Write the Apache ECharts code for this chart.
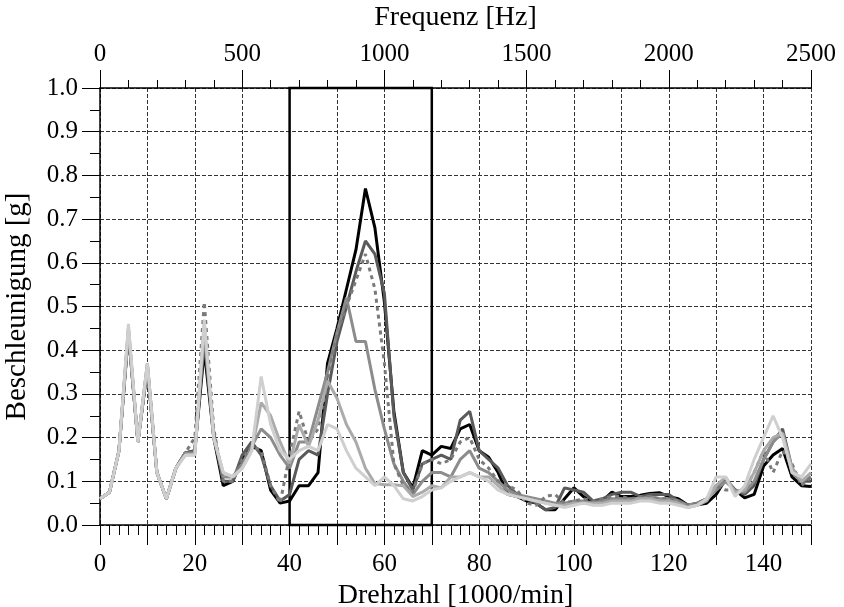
<!DOCTYPE html>
<html><head><meta charset="utf-8">
<script src="https://cdn.jsdelivr.net/npm/echarts@6/dist/echarts.min.js"></script>
<style>html,body{margin:0;padding:0;background:#fff}#c{width:844px;height:607px}</style>
</head><body><div id="c"></div>
<script>
const speed = [0,2,4,6,8,10,12,14,16,18,20,22,24,26,28,30,32,34,36,38,40,42,44,46,48,50,52,54,56,58,60,62,64,66,68,70,72,74,76,78,80,82,84,86,88,90,92,94,96,98,100,102,104,106,108,110,112,114,116,118,120,122,124,126,128,130,132,134,136,138,140,142,144,146,148,150];
const sBlack = [0.06,0.075,0.17,0.44,0.19,0.36,0.12,0.06,0.13,0.165,0.17,
 0.40,0.20,0.09,0.10,0.15,0.18,0.17,0.08,0.05,0.055,
 0.09,0.09,0.12,0.37,0.45,0.54,0.63,0.77,0.68,0.51,
 0.26,0.12,0.085,0.17,0.16,0.18,0.175,0.22,0.23,0.17,
 0.155,0.12,0.07,0.065,0.055,0.05,0.035,0.035,0.06,0.085,
 0.065,0.05,0.055,0.075,0.065,0.065,0.068,0.072,0.074,0.065,
 0.06,0.046,0.046,0.05,0.07,0.105,0.08,0.062,0.07,0.135,
 0.16,0.175,0.11,0.09,0.088];
const sDark = [0.06,0.075,0.17,0.44,0.19,0.36,0.12,0.06,0.13,0.165,0.17,
 0.42,0.21,0.10,0.10,0.16,0.19,0.16,0.09,0.055,0.07,
 0.15,0.17,0.16,0.30,0.42,0.50,0.58,0.65,0.62,0.53,
 0.25,0.12,0.08,0.14,0.15,0.16,0.15,0.24,0.26,0.17,
 0.15,0.13,0.09,0.07,0.06,0.05,0.035,0.04,0.085,0.08,
 0.075,0.055,0.06,0.07,0.075,0.075,0.065,0.07,0.07,0.07,
 0.055,0.045,0.05,0.06,0.09,0.10,0.08,0.07,0.09,0.15,
 0.19,0.22,0.13,0.10,0.10];
const sMedium = [0.06,0.075,0.17,0.45,0.19,0.37,0.12,0.06,0.13,0.165,0.165,
 0.44,0.20,0.11,0.11,0.14,0.18,0.22,0.20,0.16,0.13,
 0.19,0.19,0.27,0.35,0.44,0.52,0.42,0.42,0.31,0.22,
 0.14,0.10,0.07,0.10,0.12,0.12,0.11,0.15,0.17,0.13,
 0.12,0.10,0.08,0.07,0.065,0.06,0.055,0.05,0.05,0.055,
 0.055,0.05,0.055,0.06,0.06,0.06,0.06,0.065,0.06,0.06,
 0.055,0.045,0.05,0.06,0.08,0.10,0.08,0.075,0.10,0.15,
 0.19,0.21,0.12,0.10,0.11];
const sDashed = [0.06,0.075,0.17,0.44,0.19,0.36,0.12,0.06,0.13,0.165,0.20,
 0.51,0.22,0.10,0.10,0.15,0.18,0.17,0.09,0.05,0.16,
 0.26,0.19,0.22,0.33,0.44,0.50,0.56,0.62,0.54,0.37,
 0.14,0.09,0.075,0.14,0.15,0.14,0.15,0.19,0.20,0.15,
 0.13,0.10,0.09,0.08,0.05,0.045,0.065,0.07,0.05,0.055,
 0.06,0.055,0.06,0.065,0.065,0.06,0.065,0.065,0.06,0.06,
 0.055,0.045,0.05,0.06,0.09,0.08,0.08,0.08,0.12,0.17,
 0.12,0.17,0.14,0.09,0.11];
const sLight = [0.06,0.075,0.17,0.45,0.19,0.37,0.12,0.06,0.13,0.16,0.16,
 0.46,0.20,0.12,0.11,0.13,0.17,0.28,0.25,0.19,0.14,
 0.23,0.18,0.24,0.33,0.29,0.23,0.19,0.13,0.095,0.092,
 0.092,0.09,0.065,0.075,0.09,0.085,0.11,0.11,0.12,0.11,
 0.11,0.09,0.07,0.065,0.06,0.055,0.05,0.045,0.045,0.05,
 0.05,0.05,0.05,0.055,0.055,0.055,0.06,0.06,0.055,0.055,
 0.05,0.04,0.045,0.055,0.09,0.11,0.075,0.08,0.12,0.17,
 0.20,0.21,0.13,0.10,0.12];
const sLightest = [0.06,0.075,0.17,0.46,0.19,0.37,0.12,0.06,0.13,0.16,0.16,
 0.47,0.20,0.12,0.11,0.13,0.17,0.34,0.23,0.17,0.15,
 0.17,0.18,0.17,0.23,0.22,0.17,0.13,0.11,0.09,0.11,
 0.09,0.06,0.055,0.065,0.08,0.085,0.10,0.11,0.12,0.11,
 0.10,0.08,0.07,0.065,0.06,0.055,0.05,0.045,0.04,0.045,
 0.05,0.045,0.045,0.05,0.05,0.05,0.055,0.055,0.05,0.05,
 0.045,0.04,0.045,0.06,0.11,0.11,0.065,0.09,0.15,0.20,
 0.25,0.20,0.12,0.11,0.14];
const boxRange = [40, 70];
const boxY = [0, 1];

const F = 'Liberation Serif';
function pts(ys){ return speed.map((x,i)=>[x, ys[i]]); }
function ln(name, ys, color, type){
  return {name, type:'line', xAxisIndex:0, yAxisIndex:0, data: pts(ys), symbol:'none',
    lineStyle:{color, width:3, type: type||'solid'}, z: 3};
}
const grid = {type:'dashed', color:'#333', width:1};
const chart = echarts.init(document.getElementById('c'), null, {renderer:'canvas'});
chart.setOption({
  animation:false,
  backgroundColor:'#fff',
  grid:{left:100, right:33, top:88, bottom:82, containLabel:false, outerBoundsMode:'none'},
  xAxis:[
    {type:'value', position:'bottom', min:0, max:150, interval:10,
     name:'Drehzahl [1000/min]', nameLocation:'middle', nameGap:52,
     nameTextStyle:{fontFamily:F, fontSize:28, color:'#000'},
     axisLine:{show:true, onZero:false, lineStyle:{color:'#000', width:1.5}},
     axisTick:{show:true, inside:false, length:20, lineStyle:{color:'#000', width:1}},
     minorTick:{show:true, splitNumber:5, length:10, lineStyle:{color:'#000', width:1}},
     axisLabel:{fontFamily:F, fontSize:25, color:'#000', margin:27,
       formatter:v => (v % 20 === 0 ? String(v) : '')},
     splitLine:{show:true, lineStyle:grid}},
    {type:'value', position:'top', min:0, max:2500, interval:500,
     name:'Frequenz [Hz]', nameLocation:'middle', nameGap:56,
     nameTextStyle:{fontFamily:F, fontSize:28, color:'#000'},
     axisLine:{show:true, onZero:false, lineStyle:{color:'#000', width:1.5}},
     axisTick:{show:true, inside:false, length:18, lineStyle:{color:'#000', width:1}},
     minorTick:{show:true, splitNumber:5, length:8, lineStyle:{color:'#000', width:1}},
     axisLabel:{fontFamily:F, fontSize:25, color:'#000', margin:21, formatter:v => String(v)},
     splitLine:{show:false}}
  ],
  yAxis:[
    {type:'value', min:0, max:1, interval:0.1,
     name:'Beschleunigung [g]', nameLocation:'middle', nameGap:68, nameRotate:90,
     nameTextStyle:{fontFamily:F, fontSize:29, color:'#000'},
     axisLine:{show:true, onZero:false, lineStyle:{color:'#000', width:1.5}},
     axisTick:{show:true, inside:false, length:18, lineStyle:{color:'#000', width:1}},
     minorTick:{show:true, splitNumber:2, length:10, lineStyle:{color:'#000', width:1}},
     axisLabel:{fontFamily:F, fontSize:25, color:'#000', margin:22,
       formatter:v => v.toFixed(1)},
     splitLine:{show:true, lineStyle:grid}}
  ],
  series:[
    ln('s1', sBlack, '#000000'),
    ln('s2', sDark, '#5a5a5a'),
    ln('s3', sMedium, '#8c8c8c'),
    ln('s4', sDashed, '#7a7a7a', [4,4]),
    ln('s5', sLight, '#ababab'),
    ln('s6', sLightest, '#cfcfcf'),
    {type:'line', data:[], xAxisIndex:0, yAxisIndex:0, silent:true,
     markArea:{silent:true, itemStyle:{color:'rgba(0,0,0,0)', borderColor:'#000', borderWidth:2.5},
       data:[[{xAxis:boxRange[0], yAxis:boxY[0]},{xAxis:boxRange[1], yAxis:boxY[1]}]]}, z:5}
  ]
});
</script></body></html>
